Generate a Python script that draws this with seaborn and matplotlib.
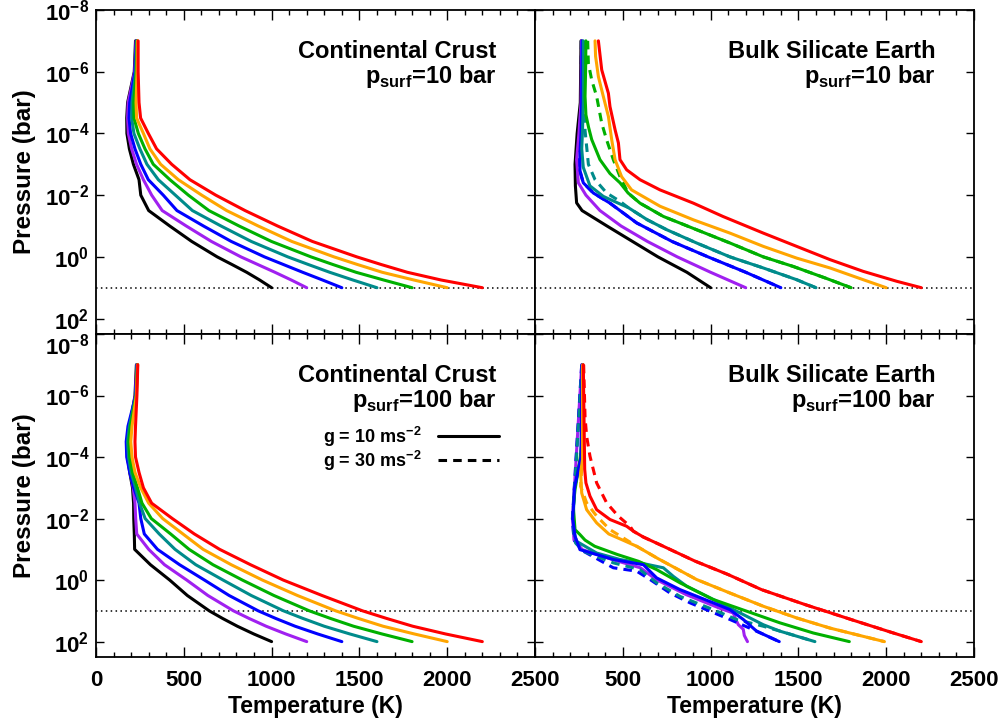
import numpy as np
import pandas as pd
import matplotlib
matplotlib.use("Agg")
import matplotlib.pyplot as plt
import seaborn as sns
from matplotlib.lines import Line2D
from matplotlib.ticker import (FixedLocator, MultipleLocator, NullLocator,
                               LogFormatterSciNotation, FuncFormatter)

# ---------------------------------------------------------------------------
# Temperature profiles, T(K) against log10 pressure (bar)
# ---------------------------------------------------------------------------
surface_temps = [1000, 1200, 1400, 1600, 1800, 2000, 2200]
line_colors = ["#000000", "#a020f0", "#0000ff", "#008b8b", "#00b000", "#ffa500", "#ff0000"]

# Continental crust, p_surf = 10 bar
cc10_logp = [-7, -6, -5, -4.5, -4, -3.5, -3, -2.5, -2, -1.5, -1, -0.5, 0, 0.25, 0.5, 0.75, 1]
cc10_t1000 = [225, 218, 180, 175, 176, 190, 213, 245, 255, 300, 420, 545, 690, 775, 858, 932, 1000]
cc10_t1200 = [228, 220, 183, 180, 184, 203, 231, 270, 317, 377, 514, 657, 825, 922, 1019, 1112, 1200]
cc10_t1400 = [230, 222, 192, 188, 197, 222, 255, 298, 383, 461, 612, 770, 959, 1068, 1177, 1290, 1400]
cc10_t1600 = [232, 226, 205, 203, 216, 250, 290, 355, 452, 549, 712, 884, 1092, 1210, 1331, 1463, 1600]
cc10_t1800 = [234, 230, 215, 216, 241, 279, 326, 421, 526, 643, 815, 999, 1224, 1350, 1481, 1638, 1800]
cc10_t2000 = [236, 234, 228, 231, 270, 307, 368, 469, 602, 744, 924, 1115, 1355, 1490, 1630, 1810, 2000]
cc10_t2200 = [240, 240, 245, 254, 298, 345, 431, 535, 682, 849, 1034, 1232, 1485, 1625, 1773, 1965, 2200]

# Continental crust, p_surf = 100 bar
cc100_logp = [-7, -6, -5, -4.5, -4, -3.5, -3, -2.5, -2, -1.5, -1, -0.5, 0, 0.5, 1, 1.25, 1.5, 1.75, 2]
cc100_t1000 = [230, 222, 192, 178, 180, 192, 208, 214, 215, 218, 220, 310, 420, 520, 645, 722, 805, 898, 1000]
cc100_t1200 = [232, 224, 190, 176, 178, 195, 212, 222, 226, 232, 300, 390, 517, 637, 783, 873, 969, 1080, 1200]
cc100_t1400 = [234, 226, 182, 172, 175, 192, 215, 245, 255, 275, 350, 476, 618, 758, 924, 1025, 1134, 1262, 1400]
cc100_t1600 = [235, 228, 190, 180, 185, 200, 225, 248, 280, 360, 450, 568, 724, 884, 1068, 1180, 1300, 1445, 1600]
cc100_t1800 = [236, 229, 196, 187, 192, 208, 236, 262, 315, 425, 530, 666, 834, 1013, 1215, 1337, 1467, 1628, 1800]
cc100_t2000 = [237, 230, 205, 198, 205, 222, 255, 300, 380, 495, 610, 770, 948, 1147, 1365, 1496, 1635, 1812, 2000]
cc100_t2200 = [238, 233, 225, 222, 225, 245, 270, 317, 435, 560, 704, 880, 1067, 1287, 1518, 1657, 1804, 1990, 2200]

# Bulk silicate Earth, p_surf = 10 bar
bse10_t1000_logp = [-7, -5, -4, -3, -2.3, -1.75, -1.5, -1.0, -0.5, 0, 0.5, 1]
bse10_t1000_temp = [262, 258, 240, 228, 230, 237, 268, 410, 555, 700, 865, 1000]
bse10_t1200_logp = [-7, -5, -4, -3.15, -2.4, -2.0, -1.5, -1.0, -0.5, 0, 0.5, 1]
bse10_t1200_temp = [265, 262, 250, 237, 247, 290, 370, 490, 640, 810, 1000, 1200]
bse10_t1400_logp = [-7, -5, -4, -3.36, -2.8, -2.4, -2.07, -1.74, -1.1, -0.5, 0, 0.5, 1]
bse10_t1400_temp = [268, 266, 262, 256, 256, 275, 332, 427, 579, 780, 985, 1200, 1400]
bse10_t1600_logp = [-7, -5, -4, -3.5, -2.9, -2.3, -1.96, -1.75, -1.6, -1.2, -0.88, -0.45, 0, 0.36, 0.74, 1]
bse10_t1600_temp = [275, 275, 270, 266, 275, 313, 389, 470, 530, 640, 750, 920, 1110, 1300, 1490, 1600]
bse10_t1800_logp = [-7, -6, -5.2, -4.6, -4.2, -3.8, -3.15, -2.7, -2.4, -2.07, -1.74, -1.31, -0.88, -0.45, 0, 0.31, 0.7, 1]
bse10_t1800_temp = [290, 288, 285, 290, 305, 323, 370, 427, 484, 530, 598, 731, 920, 1110, 1300, 1470, 1660, 1800]
bse10_t2000_logp = [-7, -6.5, -5.84, -5.2, -4.55, -3.79, -3.15, -2.6, -2.17, -1.64, -1.2, -0.77, -0.34, 0.04, 0.36, 0.74, 1]
bse10_t2000_temp = [342, 345, 361, 389, 418, 437, 456, 493, 550, 712, 902, 1110, 1300, 1490, 1680, 1869, 2000]
bse10_t2200_logp = [-7, -6.06, -5.3, -4.87, -4.12, -3.69, -3.15, -2.82, -2.5, -2.17, -1.74, -1.31, -0.77, -0.34, 0.09, 0.47, 0.79, 1]
bse10_t2200_temp = [361, 380, 418, 427, 456, 475, 484, 522, 598, 712, 902, 1070, 1300, 1490, 1680, 1869, 2059, 2200]
# g = 30 profiles that separate from the g = 10 ones
bse10_g30_t1400_logp = [-7, -5, -4, -3.4, -2.8, -2.4, -2.07, -1.74, -1.1, -0.5, 0, 0.5, 1]
bse10_g30_t1400_temp = [264, 262, 258, 254, 254, 275, 332, 427, 579, 780, 985, 1200, 1400]
bse10_g30_t1600_logp = [-7, -5, -4.1, -3.0, -2.5, -2.07, -1.8, -1.6, -1.2, -0.88, -0.45, 0, 0.36, 0.74, 1]
bse10_g30_t1600_temp = [280, 282, 285, 304, 342, 408, 484, 530, 640, 750, 920, 1110, 1300, 1490, 1600]
bse10_g30_t1800_logp = [-7, -6.27, -5.73, -5.2, -4.33, -3.79, -3.15, -2.6, -2.07, -1.74, -1.31, -0.88, -0.45, 0, 0.31, 0.7, 1]
bse10_g30_t1800_temp = [300, 304, 323, 351, 380, 408, 446, 484, 530, 598, 731, 920, 1110, 1300, 1470, 1660, 1800]

# Bulk silicate Earth, p_surf = 100 bar
bse100_t1200_logp = [-7, -2.0, -1.3, -0.99, -0.67, -0.4, -0.02, 0.47, 0.91, 1.07, 1.3, 1.45, 1.6, 1.8, 2.0]
bse100_t1200_temp = [266, 214, 222, 270, 440, 600, 690, 860, 1050, 1129, 1145, 1158, 1186, 1192, 1210]
bse100_t1400_logp = [-7, -4, -3, -2.0, -1.42, -0.99, -0.67, -0.5, -0.07, 0.31, 0.74, 0.96, 1.28, 1.66, 2.0]
bse100_t1400_temp = [268, 262, 225, 215, 228, 256, 446, 617, 693, 826, 1015, 1110, 1186, 1262, 1391]
bse100_t1600_logp = [-7, -4, -3, -2.08, -1.5, -1.26, -0.88, -0.67, -0.56, -0.4, -0.12, 0.2, 0.63, 1.01, 1.45, 1.66, 2.0]
bse100_t1600_temp = [270, 262, 225, 218, 225, 237, 351, 484, 598, 731, 788, 864, 1015, 1148, 1300, 1395, 1594]
bse100_t1800_logp = [-7, -4.5, -3.92, -2.94, -2.4, -1.64, -1.48, -1.3, -1.1, -0.83, -0.61, -0.34, 0.09, 0.63, 1.01, 1.39, 1.72, 2.0]
bse100_t1800_temp = [272, 268, 256, 228, 218, 228, 256, 285, 340, 470, 590, 693, 826, 1015, 1205, 1395, 1585, 1790]
bse100_t2000_logp = [-7, -4.5, -3.92, -3.49, -2.83, -2.29, -1.86, -1.5, -1.3, -1.1, -0.7, -0.02, 0.42, 0.85, 1.23, 1.56, 2.0]
bse100_t2000_temp = [271, 271, 271, 260, 266, 294, 351, 420, 500, 579, 700, 920, 1110, 1300, 1490, 1680, 1990]
bse100_t2200_logp = [-7, -5.3, -3.6, -3.16, -2.73, -2.29, -1.97, -1.75, -1.59, -1.4, -1.15, -0.62, -0.18, 0.31, 0.8, 1.3, 1.7, 2.0]
bse100_t2200_temp = [275, 279, 283, 290, 313, 351, 427, 522, 560, 617, 712, 910, 1100, 1290, 1540, 1810, 2030, 2200]
bse100_g30_t1400_logp = [-7, -2.0, -1.3, -0.94, -0.4, -0.29, -0.02, 0.42, 0.74, 1.01, 1.28, 1.66, 2.0]
bse100_g30_t1400_temp = [266, 213, 222, 275, 446, 579, 655, 769, 883, 996, 1110, 1262, 1391]
bse100_g30_t1600_logp = [-7, -2.0, -1.5, -1.2, -0.94, -0.56, -0.34, 0.09, 0.53, 0.96, 1.28, 1.5, 1.7, 2.0]
bse100_g30_t1600_temp = [268, 215, 222, 232, 275, 446, 598, 693, 826, 1015, 1148, 1300, 1420, 1594]
bse100_g30_t2000_logp = [-7, -4, -3.05, -2.51, -2.08, -1.64, -1.37, -1.1, -0.7, -0.02, 0.42, 0.85, 1.23, 1.56, 2.0]
bse100_g30_t2000_temp = [273, 270, 260, 294, 351, 427, 503, 579, 700, 920, 1110, 1300, 1490, 1680, 1990]
bse100_g30_t2200_logp = [-7, -5.3, -4.68, -4.03, -3.16, -2.51, -2.08, -1.75, -1.59, -1.4, -1.15, -0.62, -0.18, 0.31, 0.8, 1.3, 1.7, 2.0]
bse100_g30_t2200_temp = [277, 285, 294, 313, 351, 408, 474, 541, 560, 617, 712, 910, 1100, 1290, 1540, 1810, 2030, 2200]

x_ticks = [0, 500, 1000, 1500, 2000, 2500]
y_tick_exponents = [-8, -6, -4, -2, 0, 2]
surface_pressure_line = 10.0

panel_titles = {
    "cc10": ("Continental Crust", r"p$_{\mathdefault{surf}}$=10 bar"),
    "bse10": ("Bulk Silicate Earth", r"p$_{\mathdefault{surf}}$=10 bar"),
    "cc100": ("Continental Crust", r"p$_{\mathdefault{surf}}$=100 bar"),
    "bse100": ("Bulk Silicate Earth", r"p$_{\mathdefault{surf}}$=100 bar"),
}
legend_labels = [r"g = 10 ms$^{\mathdefault{-2}}$", r"g = 30 ms$^{\mathdefault{-2}}$"]

# ---------------------------------------------------------------------------
# Style
# ---------------------------------------------------------------------------
sns.set_style("ticks")
plt.rcParams["font.family"] = ["Liberation Sans", "DejaVu Sans"]
plt.rcParams["font.weight"] = "bold"
plt.rcParams["axes.labelweight"] = "bold"
plt.rcParams["axes.linewidth"] = 1.3
plt.rcParams["axes.edgecolor"] = "black"
for key in ("text.color", "axes.labelcolor", "xtick.color", "ytick.color"):
    plt.rcParams[key] = "black"

LW = 2.2
DASH = (0, (2.8, 2.0))

fig = plt.figure(figsize=(10.04, 7.21), dpi=100)
FW, FH = 1004, 721


def frame(x0, y0, x1, y1):
    return fig.add_axes([x0 / FW, 1 - y1 / FH, (x1 - x0) / FW, (y1 - y0) / FH])


ax_cc10 = frame(96, 10, 535, 334)
ax_bse10 = frame(535, 10, 974, 334)
ax_cc100 = frame(96, 334, 535, 657)
ax_bse100 = frame(535, 334, 974, 657)


def draw(ax, logp, temps, color, dashed=False):
    df = pd.DataFrame({"T": temps, "P": np.power(10.0, np.asarray(logp, dtype=float))})
    sns.lineplot(data=df, x="T", y="P", sort=False, estimator=None, color=color,
                 lw=LW, ls=DASH if dashed else "-", ax=ax)


for ax in (ax_cc10, ax_bse10, ax_cc100, ax_bse100):
    ax.set_yscale("log")

# Continental crust panels
for temps, col in zip([cc10_t1000, cc10_t1200, cc10_t1400, cc10_t1600,
                       cc10_t1800, cc10_t2000, cc10_t2200], line_colors):
    draw(ax_cc10, cc10_logp, temps, col)
for temps, col in zip([cc100_t1000, cc100_t1200, cc100_t1400, cc100_t1600,
                       cc100_t1800, cc100_t2000, cc100_t2200], line_colors):
    draw(ax_cc100, cc100_logp, temps, col)

# Bulk silicate Earth, 10 bar
draw(ax_bse10, bse10_g30_t1400_logp, bse10_g30_t1400_temp, line_colors[2], dashed=True)
draw(ax_bse10, bse10_g30_t1600_logp, bse10_g30_t1600_temp, line_colors[3], dashed=True)
draw(ax_bse10, bse10_g30_t1800_logp, bse10_g30_t1800_temp, line_colors[4], dashed=True)
for lp, tt, col in zip(
        [bse10_t1000_logp, bse10_t1200_logp, bse10_t1400_logp, bse10_t1600_logp,
         bse10_t1800_logp, bse10_t2000_logp, bse10_t2200_logp],
        [bse10_t1000_temp, bse10_t1200_temp, bse10_t1400_temp, bse10_t1600_temp,
         bse10_t1800_temp, bse10_t2000_temp, bse10_t2200_temp],
        line_colors):
    draw(ax_bse10, lp, tt, col)

# Bulk silicate Earth, 100 bar (1200 K profile underneath the rest)
draw(ax_bse100, bse100_t1200_logp, bse100_t1200_temp, line_colors[1])
draw(ax_bse100, bse100_g30_t1400_logp, bse100_g30_t1400_temp, line_colors[2], dashed=True)
draw(ax_bse100, bse100_g30_t1600_logp, bse100_g30_t1600_temp, line_colors[3], dashed=True)
draw(ax_bse100, bse100_g30_t2000_logp, bse100_g30_t2000_temp, line_colors[5], dashed=True)
draw(ax_bse100, bse100_g30_t2200_logp, bse100_g30_t2200_temp, line_colors[6], dashed=True)
for lp, tt, col in zip(
        [bse100_t1600_logp, bse100_t1800_logp, bse100_t1400_logp,
         bse100_t2000_logp, bse100_t2200_logp],
        [bse100_t1600_temp, bse100_t1800_temp, bse100_t1400_temp,
         bse100_t2000_temp, bse100_t2200_temp],
        [line_colors[3], line_colors[4], line_colors[2], line_colors[5], line_colors[6]]):
    draw(ax_bse100, lp, tt, col)

# Axes formatting
sci = LogFormatterSciNotation()
for ax, key in ((ax_cc10, "cc10"), (ax_bse10, "bse10"),
                (ax_cc100, "cc100"), (ax_bse100, "bse100")):
    ax.axhline(surface_pressure_line, color="black", lw=1.1, ls=(0, (1, 2.2)), zorder=1)
    ax.set_xlim(x_ticks[0], x_ticks[-1])
    ax.set_ylim(10 ** 2.5, 1e-8)
    ax.xaxis.set_major_locator(FixedLocator(x_ticks))
    ax.xaxis.set_minor_locator(MultipleLocator(100))
    ax.yaxis.set_major_locator(FixedLocator([10.0 ** e for e in y_tick_exponents]))
    ax.yaxis.set_minor_locator(NullLocator())
    ax.yaxis.set_major_formatter(sci)
    ax.tick_params(which="both", direction="in", top=True, right=True,
                   color="black", labelsize=16, width=1.0)
    ax.tick_params(axis="x", which="major", length=7, pad=9)
    ax.tick_params(axis="x", which="minor", length=3.5)
    ax.tick_params(axis="y", which="major", length=6, pad=5)
    ax.set_xlabel("")
    ax.set_ylabel("")
    for s in ax.spines.values():
        s.set_visible(True)
        s.set_linewidth(1.3)
    line1, line2 = panel_titles[key]
    ax.text(0.913, 0.852, line1, transform=ax.transAxes, ha="right", va="baseline",
            fontsize=17, fontweight="bold")
    ax.text(0.913, 0.775, line2, transform=ax.transAxes, ha="right", va="baseline",
            fontsize=17, fontweight="bold")

for ax in (ax_cc10, ax_bse10):
    ax.tick_params(axis="x", labelbottom=False)
for ax in (ax_bse10, ax_bse100):
    ax.tick_params(axis="y", labelleft=False)
ax_bse100.xaxis.set_major_formatter(FuncFormatter(lambda v, p: "" if v == 0 else f"{v:.0f}"))

for ax in (ax_cc10, ax_cc100):
    ax.set_ylabel("Pressure (bar)", fontsize=17.5, labelpad=6)
for ax in (ax_cc100, ax_bse100):
    ax.set_xlabel("Temperature (K)", fontsize=16.5, labelpad=3)

# The 1e-8 label of the lower row hangs below the shared edge
ax_cc100.yaxis.get_major_ticks()[0].label1.set_verticalalignment("top")

# Gravity legend
handles = [Line2D([], [], color="black", lw=LW),
           Line2D([], [], color="black", lw=LW, ls=DASH)]
ax_cc100.legend(handles, legend_labels, loc="center right", bbox_to_anchor=(0.955, 0.645),
                markerfirst=False, frameon=False, handlelength=3.4, handletextpad=0.9,
                labelspacing=0.0, prop={"weight": "bold", "size": 13})

fig.savefig("out.png", dpi=100)
